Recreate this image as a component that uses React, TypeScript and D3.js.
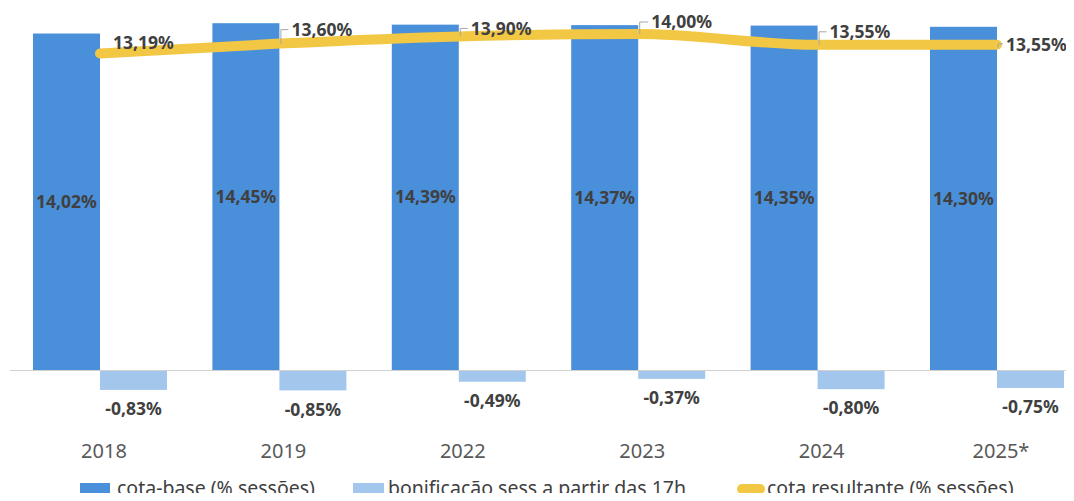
import { useRef, useEffect } from "react";
import * as d3 from "d3";

const years = ["2018", "2019", "2022", "2023", "2024", "2025*"];
const cotaBase = [14.02, 14.45, 14.39, 14.37, 14.35, 14.3];
const bonificacao = [-0.83, -0.85, -0.49, -0.37, -0.8, -0.75];
const cotaResultante = [13.19, 13.6, 13.9, 14.0, 13.55, 13.55];
const seriesNames = [
  "cota-base (% sessões)",
  "bonificação sess a partir das 17h",
  "cota resultante (% sessões)",
];

// label offsets for the line labels (dx, dy from point), leader = bracket line
const lineLabelLayout = [
  { dx: 13, dy: -11, leader: false },
  { dx: 12, dy: -14, leader: true },
  { dx: 12, dy: -8, leader: true },
  { dx: 13, dy: -12, leader: true },
  { dx: 12, dy: -13, leader: true },
  { dx: 9, dy: 0, leader: true },
];

const W = 1074;
const H = 501;
const fmt = (v: number) => v.toFixed(2).replace(".", ",") + "%";

export default function App() {
  const svgRef = useRef<SVGSVGElement>(null);

  useEffect(() => {
    const svg = d3.select(svgRef.current);
    svg.selectAll("*").remove();

    const font = "'Noto Sans', 'Open Sans', sans-serif";
    const x = d3.scaleBand().domain(years).range([10.3, 1086.7]).padding(0);
    const y = d3.scaleLinear().domain([-1, 15]).range([394, 10]);
    const barW = 67;
    const cx = (i: number) => (x(years[i]) as number) + x.bandwidth() / 2;
    const lblSize = 17.5;

    svg.append("rect").attr("width", W).attr("height", H).attr("fill", "#fff");

    // cota-base bars
    svg
      .selectAll("rect.base")
      .data(cotaBase)
      .join("rect")
      .attr("class", "base")
      .attr("x", (_, i) => cx(i) - barW)
      .attr("y", (d) => y(d))
      .attr("width", barW)
      .attr("height", (d) => y(0) - y(d))
      .attr("fill", "#4a8fd9");

    // bonificação bars
    svg
      .selectAll("rect.bonif")
      .data(bonificacao)
      .join("rect")
      .attr("class", "bonif")
      .attr("x", (_, i) => cx(i))
      .attr("y", y(0))
      .attr("width", barW)
      .attr("height", (d) => y(d) - y(0))
      .attr("fill", "#a3c7ec");

    // axis line
    svg
      .append("line")
      .attr("x1", 10)
      .attr("x2", W)
      .attr("y1", y(0) + 0.5)
      .attr("y2", y(0) + 0.5)
      .attr("stroke", "#d0d0d0")
      .attr("stroke-width", 1);

    // labels inside base bars
    svg
      .selectAll("text.baseLbl")
      .data(cotaBase)
      .join("text")
      .attr("class", "baseLbl")
      .attr("x", (_, i) => cx(i) - barW / 2)
      .attr("y", (d) => (y(d) + y(0)) / 2)
      .attr("dy", "0.35em")
      .attr("text-anchor", "middle")
      .attr("font-family", font)
      .attr("font-weight", "bold")
      .attr("font-size", lblSize)
      .attr("fill", "#404040")
      .text((d) => fmt(d));

    // labels below bonif bars
    svg
      .selectAll("text.bonLbl")
      .data(bonificacao)
      .join("text")
      .attr("class", "bonLbl")
      .attr("x", (_, i) => cx(i) + barW / 2)
      .attr("y", (d) => y(d) + 19)
      .attr("dy", "0.35em")
      .attr("text-anchor", "middle")
      .attr("font-family", font)
      .attr("font-weight", "bold")
      .attr("font-size", lblSize)
      .attr("fill", "#404040")
      .text((d) => fmt(d));

    // line
    const line = d3
      .line<number>()
      .x((_, i) => cx(i))
      .y((d) => y(d))
      .curve(d3.curveMonotoneX);
    svg
      .append("path")
      .datum(cotaResultante)
      .attr("d", line)
      .attr("fill", "none")
      .attr("stroke", "#f2c744")
      .attr("stroke-width", 10)
      .attr("stroke-linecap", "round")
      .attr("stroke-linejoin", "round");

    // line labels
    cotaResultante.forEach((v, i) => {
      const L = lineLabelLayout[i];
      const px = cx(i);
      const py = y(v);
      if (L.leader) {
        const ly = py + L.dy;
        svg
          .append("path")
          .attr(
            "d",
            L.dy === 0
              ? `M${px + 1},${py + 3} L${px + 1},${py - 1} L${px + L.dx - 3},${py - 1}`
              : `M${px + 1.5},${py} L${px + 1.5},${ly} L${px + L.dx - 3},${ly}`
          )
          .attr("fill", "none")
          .attr("stroke", "#a6a6a6")
          .attr("stroke-width", 1);
      }
      svg
        .append("text")
        .attr("x", px + L.dx)
        .attr("y", py + L.dy)
        .attr("dy", "0.35em")
        .attr("font-family", font)
        .attr("font-weight", "bold")
        .attr("font-size", lblSize)
        .attr("fill", "#404040")
        .text(fmt(v));
    });

    // category labels
    svg
      .selectAll("text.cat")
      .data(years)
      .join("text")
      .attr("class", "cat")
      .attr("x", (_, i) => cx(i) + 4)
      .attr("y", 451)
      .attr("dy", "0.35em")
      .attr("text-anchor", "middle")
      .attr("font-family", font)
      .attr("font-size", 20)
      .attr("fill", "#595959")
      .text((d) => d);

    // legend
    const ly = 488;
    const lg = svg.append("g").attr("font-family", font).attr("font-size", 19.5).attr("fill", "#404040");
    lg.append("rect").attr("x", 80).attr("y", ly - 5).attr("width", 30).attr("height", 13).attr("fill", "#4a8fd9");
    lg.append("text").attr("x", 117).attr("y", ly).attr("dy", "0.35em").text(seriesNames[0]);
    lg.append("rect").attr("x", 353).attr("y", ly - 5).attr("width", 31).attr("height", 13).attr("fill", "#a3c7ec");
    lg.append("text").attr("x", 388).attr("y", ly).attr("dy", "0.35em").text(seriesNames[1]);
    lg.append("line")
      .attr("x1", 742).attr("x2", 760).attr("y1", ly + 1).attr("y2", ly + 1)
      .attr("stroke", "#f2c744").attr("stroke-width", 10).attr("stroke-linecap", "round");
    lg.append("text").attr("x", 767).attr("y", ly).attr("dy", "0.35em").text(seriesNames[2]);
  }, []);

  return (
    <div style={{ margin: -8 }}>
      <svg ref={svgRef} width={W} height={H} style={{ display: "block" }} />
    </div>
  );
}
